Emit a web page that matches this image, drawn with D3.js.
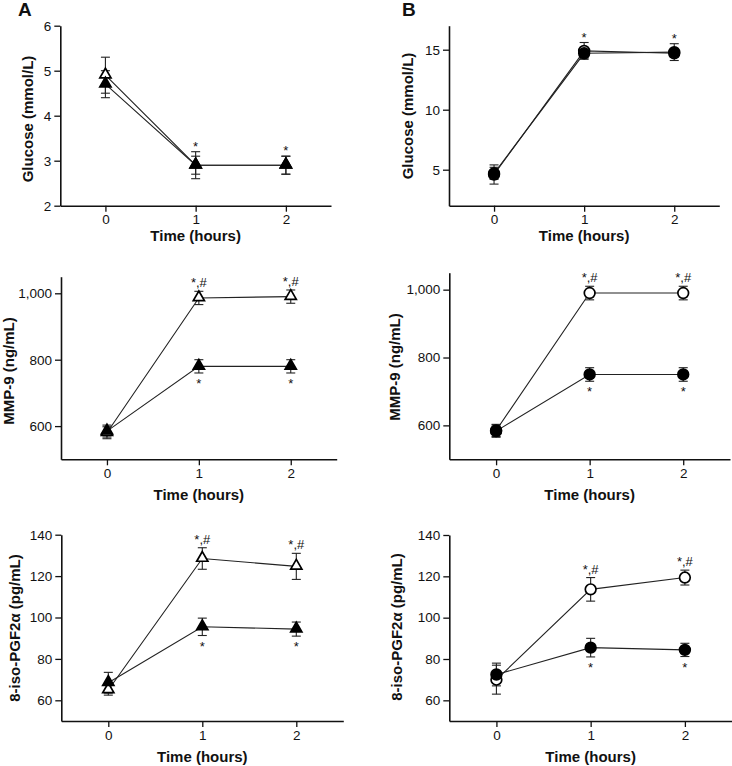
<!DOCTYPE html>
<html><head><meta charset="utf-8">
<script src="https://cdn.jsdelivr.net/npm/d3@7"></script>
<style>
body{margin:0;background:#fff}
svg{display:block}
text{font-family:"Liberation Sans",Arial,Helvetica,sans-serif;fill:#111}
</style>
</head><body><svg id="c" width="732" height="766"></svg>
<script>
// ---------- data ----------
const times = [0, 1, 2];
const xTickLabels = ["0", "1", "2"];
const xTitle = "Time (hours)";
const panelLetters = ["A", "B"];
const yTitles = ["Glucose (mmol/L)", "MMP-9 (ng/mL)", "8-iso-PGF2\u03b1 (pg/mL)"];

const gluTicks = [[2, 3, 4, 5, 6], [5, 10, 15]];
const mmpTicks = [600, 800, 1000];
const isoTicks = [60, 80, 100, 120, 140];

// Glucose, column A (triangles) and B (circles)
const gluA_open = [4.9, 2.9, 2.9],  gluA_openErr = [0.4, 0.3, 0.2];
const gluA_fill = [4.7, 2.9, 2.9],  gluA_fillErr = [0.3, 0.2, 0.2];
const gluB_open = [4.6, 14.9, 14.7], gluB_openErr = [0.8, 0.7, 0.3];
const gluB_fill = [4.7, 14.7, 14.8], gluB_fillErr = [0.5, 0.4, 0.7];

// MMP-9
const mmpA_open = [580, 986, 990], mmpA_openErr = [18, 20, 20];
const mmpA_fill = [585, 780, 780], mmpA_fillErr = [18, 20, 20];
const mmpB_open = [585, 990, 990], mmpB_openErr = [18, 20, 20];
const mmpB_fill = [583, 750, 750], mmpB_fillErr = [18, 20, 20];

// 8-iso-PGF2alpha
const isoA_open = [65, 128.5, 124.7], isoA_openErr = [2.5, 5.2, 6.3];
const isoA_fill = [68.5, 95.5, 94.4], isoA_fillErr = [5, 4.2, 3.4];
const isoB_open = [70, 113.7, 119.4], isoB_openErr = [7, 5.7, 3.6];
const isoB_fill = [72.5, 85.5, 84.4], isoB_fillErr = [5.5, 4.5, 3.2];

// significance marks (above = over the highest bar, below = under the lowest bar)
const gluA_above = ["", "*", "*"],     gluA_below = ["", "", ""];
const gluB_above = ["", "*", "*"],     gluB_below = ["", "", ""];
const mmpA_above = ["", "*,#", "*,#"], mmpA_below = ["", "*", "*"];
const mmpB_above = ["", "*,#", "*,#"], mmpB_below = ["", "*", "*"];
const isoA_above = ["", "*,#", "*,#"], isoA_below = ["", "*", "*"];
const isoB_above = ["", "*,#", "*,#"], isoB_below = ["", "*", "*"];

// ---------- layout ----------
const panels = [
  {box:{l:60.3,r:331,t:25.7,b:205.7}, yDom:[2,6], ticks:gluTicks[0], fmt:d3.format("d"), title:yTitles[0], tx:28, ty:119, xt:236,
   shape:"tri", above:gluA_above, below:gluA_below,
   series:[[gluA_open,gluA_openErr,"open"],[gluA_fill,gluA_fillErr,"fill"]]},
  {box:{l:449,r:719.3,t:25.7,b:205.7}, yDom:[2,17], ticks:gluTicks[1], fmt:d3.format("d"), title:yTitles[0], tx:408, ty:116, xt:236,
   shape:"circ", above:gluB_above, below:gluB_below,
   series:[[gluB_open,gluB_openErr,"open"],[gluB_fill,gluB_fillErr,"fill"]]},
  {box:{l:61,r:336.7,t:276.7,b:459.3}, yDom:[500,1050], ticks:mmpTicks, fmt:d3.format(","), title:yTitles[1], tx:9, ty:371, xt:495,
   shape:"tri", above:mmpA_above, below:mmpA_below,
   series:[[mmpA_open,mmpA_openErr,"open"],[mmpA_fill,mmpA_fillErr,"fill"]]},
  {box:{l:449.3,r:730,t:272.7,b:459.3}, yDom:[500,1050], ticks:mmpTicks, fmt:d3.format(","), title:yTitles[1], tx:395, ty:367, xt:495,
   shape:"circ", above:mmpB_above, below:mmpB_below,
   series:[[mmpB_open,mmpB_openErr,"open"],[mmpB_fill,mmpB_fillErr,"fill"]]},
  {box:{l:61.3,r:343.3,t:534.7,b:721}, yDom:[50,140], ticks:isoTicks, fmt:d3.format("d"), title:yTitles[2], tx:15, ty:628, xt:757,
   shape:"tri", above:isoA_above, below:isoA_below,
   series:[[isoA_open,isoA_openErr,"open"],[isoA_fill,isoA_fillErr,"fill"]]},
  {box:{l:449.3,r:732,t:535,b:721}, yDom:[50,140], ticks:isoTicks, fmt:d3.format("d"), title:yTitles[2], tx:397, ty:627, xt:757,
   shape:"circ", above:isoB_above, below:isoB_below,
   series:[[isoB_open,isoB_openErr,"open"],[isoB_fill,isoB_fillErr,"fill"]]}
];

const svg = d3.select("#c");

svg.append("text").attr("x", 18).attr("y", 16).attr("font-size", 19).attr("font-weight", "bold").text(panelLetters[0]);
svg.append("text").attr("x", 402).attr("y", 16).attr("font-size", 19).attr("font-weight", "bold").text(panelLetters[1]);

panels.forEach(p => {
  const g = svg.append("g");
  const x = d3.scaleLinear().domain([-0.5, 2.5]).range([p.box.l, p.box.r]);
  const y = d3.scaleLinear().domain(p.yDom).range([p.box.b, p.box.t]);

  const xa = g.append("g").attr("transform", `translate(0,${p.box.b})`)
    .call(d3.axisBottom(x).tickValues(times).tickFormat((d,i)=>xTickLabels[i]).tickSize(6).tickSizeOuter(0).tickPadding(3));
  const ya = g.append("g").attr("transform", `translate(${p.box.l},0)`)
    .call(d3.axisLeft(y).tickValues(p.ticks).tickFormat(p.fmt).tickSize(6).tickSizeOuter(0).tickPadding(3));
  [xa, ya].forEach(a => {
    a.select(".domain").attr("stroke", "#111").attr("stroke-width", 1.6);
    a.selectAll(".tick line").attr("stroke", "#111").attr("stroke-width", 1.3);
    a.selectAll(".tick text").attr("font-size", 13.5).attr("fill", "#111")
      .style("font-family", '"Liberation Sans",Arial,sans-serif');
  });

  g.append("text").attr("x", x(1)).attr("y", p.xt + 5).attr("text-anchor", "middle")
    .attr("font-size", 15).attr("font-weight", "bold").text(xTitle);
  g.append("text").attr("transform", `translate(${p.tx + 5},${p.ty}) rotate(-90)`).attr("text-anchor", "middle")
    .attr("font-size", 15).attr("font-weight", "bold").text(p.title);

  const line = d3.line().x((d,i)=>x(times[i])).y(d=>y(d));
  p.series.forEach(([vals]) => {
    g.append("path").attr("d", line(vals)).attr("fill", "none").attr("stroke", "#222").attr("stroke-width", 1.1);
  });

  p.series.forEach(([vals, errs]) => {
    vals.forEach((v, i) => {
      const cx = x(times[i]);
      g.append("line").attr("x1", cx).attr("x2", cx).attr("y1", y(v + errs[i])).attr("y2", y(v - errs[i]))
        .attr("stroke", "#222").attr("stroke-width", 1.1);
      [v + errs[i], v - errs[i]].forEach(e => {
        g.append("line").attr("x1", cx - 4.5).attr("x2", cx + 4.5).attr("y1", y(e)).attr("y2", y(e))
          .attr("stroke", "#222").attr("stroke-width", 1.1);
      });
    });
  });

  p.series.forEach(([vals, errs, kind]) => {
    const sym = p.shape === "tri" ? d3.symbol().type(d3.symbolTriangle).size(54)
                                  : d3.symbol().type(d3.symbolCircle).size(90);
    vals.forEach((v, i) => {
      g.append("path").attr("d", sym()).attr("transform", `translate(${x(times[i])},${y(v) + (p.shape==="tri"?-0.5:0)})`)
        .attr("fill", kind === "open" ? "#fff" : "#000").attr("stroke", "#000").attr("stroke-width", 1.7);
    });
  });

  times.forEach((t, i) => {
    const top = d3.max(p.series, s => s[0][i] + s[1][i]);
    const bot = d3.min(p.series, s => s[0][i] - s[1][i]);
    if (p.above[i]) {
      g.append("text").attr("x", x(t)).attr("y", y(top) - (p.above[i] === "*" ? 1 : 4))
        .attr("text-anchor", "middle").attr("font-size", 13).text(p.above[i]);
    }
    if (p.below[i]) {
      g.append("text").attr("x", x(t)).attr("y", y(bot) + 15)
        .attr("text-anchor", "middle").attr("font-size", 13).text(p.below[i]);
    }
  });
});
</script>
</body></html>
